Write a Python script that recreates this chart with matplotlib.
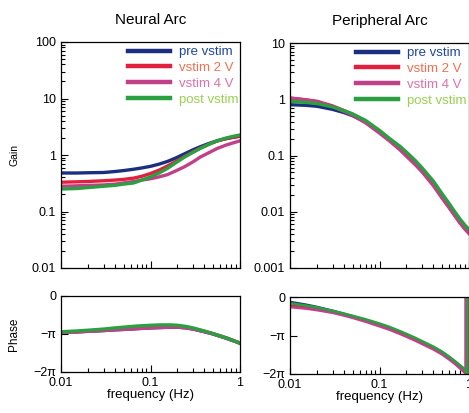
import numpy as np
import matplotlib
matplotlib.use("Agg")
import matplotlib.pyplot as plt

plt.rcParams['font.family'] = ['Liberation Sans', 'DejaVu Sans']

labels = ["pre vstim", "vstim 2 V", "vstim 4 V", "post vstim"]
line_colors = ["#1b2f80", "#e0203c", "#c0408a", "#2aa040"]
text_colors = ["#1e46a0", "#f07050", "#e070a8", "#98d050"]

# Neural arc gain
neural_freq = [0.01, 0.015, 0.02, 0.03, 0.04, 0.05, 0.065, 0.08, 0.1, 0.125,
               0.155, 0.19, 0.24, 0.3, 0.36, 0.45, 0.56, 0.7, 0.85, 1.0]
neural_gain_pre = [0.48, 0.48, 0.485, 0.49, 0.51, 0.53, 0.56, 0.59, 0.63, 0.69,
                   0.77, 0.88, 1.05, 1.24, 1.40, 1.60, 1.79, 1.95, 2.07, 2.15]
neural_gain_2v = [0.33, 0.335, 0.34, 0.35, 0.36, 0.37, 0.39, 0.42, 0.47, 0.54,
                  0.64, 0.76, 0.94, 1.14, 1.32, 1.55, 1.78, 1.95, 2.07, 2.15]
neural_gain_4v = [0.28, 0.285, 0.29, 0.295, 0.305, 0.32, 0.34, 0.36, 0.38, 0.41,
                  0.45, 0.52, 0.62, 0.76, 0.92, 1.10, 1.31, 1.50, 1.65, 1.78]
neural_gain_post = [0.25, 0.255, 0.265, 0.28, 0.29, 0.305, 0.32, 0.36, 0.41, 0.48,
                    0.58, 0.72, 0.92, 1.12, 1.31, 1.55, 1.79, 2.00, 2.15, 2.26]

freq = [0.01, 0.015, 0.02, 0.03, 0.04, 0.05, 0.07, 0.1, 0.13, 0.17,
        0.2, 0.25, 0.3, 0.4, 0.5, 0.6, 0.7, 0.8, 0.9, 1.0]

# Peripheral arc gain
periph_gain_pre = [0.80, 0.78, 0.75, 0.66, 0.58, 0.51, 0.39, 0.26, 0.19, 0.135,
                   0.105, 0.075, 0.055, 0.032, 0.019, 0.0125, 0.0088, 0.0065, 0.0051, 0.0042]
periph_gain_2v = [1.05, 0.98, 0.92, 0.76, 0.63, 0.54, 0.40, 0.26, 0.185, 0.13,
                  0.10, 0.071, 0.052, 0.030, 0.018, 0.012, 0.0085, 0.0063, 0.0050, 0.0042]
periph_gain_4v = [1.05, 0.97, 0.90, 0.74, 0.61, 0.52, 0.38, 0.25, 0.18, 0.125,
                  0.097, 0.069, 0.051, 0.029, 0.0175, 0.0118, 0.0083, 0.0062, 0.0049, 0.0041]
periph_gain_post = [0.92, 0.88, 0.84, 0.73, 0.63, 0.55, 0.42, 0.28, 0.20, 0.145,
                    0.115, 0.082, 0.060, 0.035, 0.021, 0.014, 0.0098, 0.0073, 0.0058, 0.0048]

# Neural arc phase (units of pi)
neural_phase_pre = [-0.95, -0.94, -0.93, -0.91, -0.89, -0.88, -0.86, -0.84, -0.83, -0.82,
                    -0.82, -0.84, -0.87, -0.94, -1.00, -1.06, -1.11, -1.16, -1.20, -1.24]
neural_phase_2v = [-0.95, -0.94, -0.92, -0.90, -0.88, -0.87, -0.85, -0.83, -0.81, -0.80,
                   -0.80, -0.82, -0.86, -0.93, -0.99, -1.05, -1.10, -1.15, -1.20, -1.24]
neural_phase_4v = [-0.96, -0.95, -0.93, -0.91, -0.89, -0.88, -0.86, -0.84, -0.83, -0.82,
                   -0.82, -0.84, -0.87, -0.94, -1.00, -1.06, -1.11, -1.16, -1.20, -1.24]
neural_phase_post = [-0.94, -0.92, -0.90, -0.87, -0.84, -0.82, -0.79, -0.77, -0.76, -0.76,
                     -0.77, -0.80, -0.84, -0.92, -0.99, -1.05, -1.10, -1.15, -1.20, -1.25]

# Peripheral arc phase (units of pi), grid up to 0.9 Hz, then wrap
periph_phase_freq = freq[:-1]
periph_phase_pre = [-0.13, -0.20, -0.26, -0.36, -0.44, -0.50, -0.60, -0.71, -0.80, -0.91,
                    -0.98, -1.08, -1.17, -1.31, -1.44, -1.57, -1.69, -1.81, -1.93]
periph_phase_2v = [-0.22, -0.27, -0.31, -0.39, -0.46, -0.52, -0.62, -0.74, -0.83, -0.94,
                   -1.01, -1.11, -1.20, -1.34, -1.47, -1.60, -1.72, -1.84, -1.95]
periph_phase_4v = [-0.26, -0.30, -0.34, -0.41, -0.48, -0.54, -0.64, -0.76, -0.85, -0.96,
                   -1.03, -1.13, -1.22, -1.36, -1.49, -1.62, -1.74, -1.86, -1.97]
periph_phase_post = [-0.16, -0.22, -0.27, -0.36, -0.43, -0.49, -0.58, -0.69, -0.78, -0.89,
                     -0.96, -1.06, -1.15, -1.29, -1.42, -1.55, -1.67, -1.78, -1.88]
periph_wrap_freq = [0.925, 0.93, 0.925, 0.97]

W, H = 469, 413
fig = plt.figure(figsize=(W / 100, H / 100), dpi=100)

def box(x0, y0, x1, y1):
    return [x0 / W, 1 - y1 / H, (x1 - x0) / W, (y1 - y0) / H]

ax_ng = fig.add_axes(box(61, 42, 240, 268))
ax_pg = fig.add_axes(box(290, 43, 469, 268))
ax_np = fig.add_axes(box(61, 296, 240, 372))
ax_pp = fig.add_axes(box(290, 297, 469, 374))

lw = 2.4
ng = [neural_gain_pre, neural_gain_2v, neural_gain_4v, neural_gain_post]
pg = [periph_gain_pre, periph_gain_2v, periph_gain_4v, periph_gain_post]
nph = [neural_phase_pre, neural_phase_2v, neural_phase_4v, neural_phase_post]
pph = [periph_phase_pre, periph_phase_2v, periph_phase_4v, periph_phase_post]

for i in range(4):
    ax_ng.plot(neural_freq, ng[i], color=line_colors[i], lw=lw, label=labels[i])
    ax_pg.plot(freq, pg[i], color=line_colors[i], lw=lw, label=labels[i])
    ax_np.plot(freq, np.array(nph[i]) * np.pi, color=line_colors[i], lw=lw)
    xs = list(periph_phase_freq) + [periph_wrap_freq[i], periph_wrap_freq[i]]
    ys = list(pph[i]) + [-2.0, 0.0]
    ax_pp.plot(xs, np.array(ys) * np.pi, color=line_colors[i], lw=1.9)

for ax in (ax_ng, ax_pg, ax_np, ax_pp):
    ax.set_xscale('log')
    ax.set_xlim(0.01, 1)
    ax.tick_params(which='both', direction='in', top=False, right=False, labelsize=9)
    ax.tick_params(which='major', length=5, width=0.8)
    ax.tick_params(which='minor', length=3, width=0.8)
    for s in ax.spines.values():
        s.set_linewidth(0.9)

for ax in (ax_ng, ax_pg):
    ax.set_yscale('log')
    ax.tick_params(axis='x', which='both', labelbottom=False)

ax_ng.set_ylim(0.01, 100)
ax_ng.set_yticks([0.01, 0.1, 1, 10, 100], ["0.01", "0.1", "1", "10", "100"])
ax_pg.set_ylim(0.001, 10)
ax_pg.set_yticks([0.001, 0.01, 0.1, 1, 10], ["0.001", "0.01", "0.1", "1", "10"])

for ax in (ax_np, ax_pp):
    ax.set_ylim(-2 * np.pi, 0)
    ax.set_yticks([-2 * np.pi, -np.pi, 0], ["\u22122\u03c0", "\u2212\u03c0", "0"])
    ax.set_xticks([0.01, 0.1, 1], ["0.01", "0.1", "1"])
    ax.set_xlabel("frequency (Hz)", fontsize=9.5, labelpad=0)

ax_ng.set_title("Neural Arc", fontsize=11, pad=13)
ax_pg.set_title("Peripheral Arc", fontsize=11, pad=13)

ax_ng.set_ylabel("Gain", fontsize=7.5)
ax_ng.yaxis.set_label_coords(-0.23, 0.5)
ax_np.set_ylabel("Phase", fontsize=8.5)
ax_np.yaxis.set_label_coords(-0.23, 0.5)

for ax, x0 in ((ax_ng, 0.352), (ax_pg, 0.346)):
    leg = ax.legend(loc='upper left', bbox_to_anchor=(x0, 1.0), frameon=False,
                    fontsize=9.5, handlelength=3.2, handletextpad=0.7,
                    labelspacing=0.27, borderpad=0.3, borderaxespad=0,
                    labelcolor=text_colors)
    for h in leg.get_lines():
        h.set_linewidth(3.2)

fig.savefig("out.png", dpi=100)
